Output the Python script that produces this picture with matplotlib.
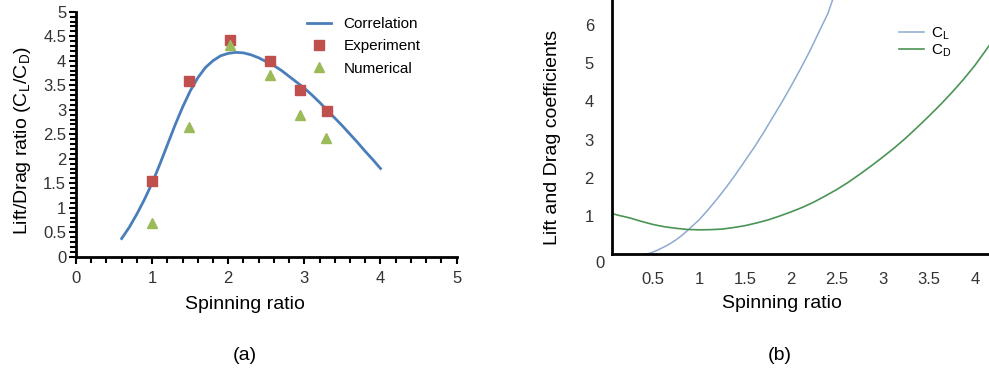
import matplotlib
matplotlib.use("Agg")
import matplotlib.pyplot as plt
from matplotlib.ticker import MultipleLocator, FuncFormatter

plt.rcParams['font.family'] = ['Liberation Sans', 'DejaVu Sans']
plt.rcParams['mathtext.fontset'] = 'custom'
plt.rcParams['mathtext.rm'] = 'Liberation Sans'

# (a) lift/drag ratio vs spinning ratio
corr_x = [0.6, 0.7, 0.8, 0.9, 1.0, 1.1, 1.2, 1.3, 1.4, 1.5, 1.6, 1.7, 1.8, 1.9, 2.0,
          2.1, 2.2, 2.3, 2.4, 2.5, 2.6, 2.7, 2.8, 2.9, 3.0, 3.1, 3.2, 3.3, 3.4, 3.5,
          3.6, 3.7, 3.8, 3.9, 4.0]
corr_y = [0.37, 0.6, 0.87, 1.17, 1.5, 1.88, 2.28, 2.68, 3.05, 3.38, 3.65, 3.86, 4.0, 4.1, 4.15,
          4.17, 4.16, 4.12, 4.06, 3.98, 3.9, 3.8, 3.68, 3.56, 3.44, 3.3, 3.15, 2.99, 2.83, 2.67,
          2.5, 2.33, 2.15, 1.98, 1.8]

exp_x = [1.0, 1.48, 2.02, 2.55, 2.94, 3.30]
exp_y = [1.55, 3.58, 4.42, 3.99, 3.40, 2.98]

num_x = [1.0, 1.49, 2.02, 2.55, 2.94, 3.29]
num_y = [0.69, 2.64, 4.33, 3.71, 2.89, 2.42]

# (b) lift and drag coefficients vs spinning ratio
cl_x = [0.4, 0.45, 0.5, 0.55, 0.6, 0.65, 0.7, 0.75, 0.8, 0.85, 0.9, 0.95, 1.0,
        1.1, 1.2, 1.3, 1.4, 1.5, 1.6, 1.7, 1.8, 1.9, 2.0, 2.1, 2.2, 2.3, 2.4, 2.45, 2.5]
cl_y = [0.0, 0.02, 0.06, 0.11, 0.17, 0.23, 0.3, 0.38, 0.47, 0.57, 0.68, 0.79, 0.9,
        1.17, 1.46, 1.77, 2.1, 2.45, 2.8, 3.18, 3.58, 3.98, 4.4, 4.84, 5.3, 5.8, 6.3, 6.65, 7.0]

cd_x = [0.05, 0.125, 0.25, 0.375, 0.5, 0.625, 0.75, 0.875, 1.0, 1.125, 1.25, 1.375,
        1.5, 1.625, 1.75, 1.875, 2.0, 2.125, 2.25, 2.375, 2.5, 2.625, 2.75, 2.875,
        3.0, 3.125, 3.25, 3.375, 3.5, 3.625, 3.75, 3.875, 4.0, 4.15]
cd_y = [1.07, 1.02, 0.95, 0.86, 0.78, 0.72, 0.68, 0.65, 0.64, 0.645, 0.66, 0.70,
        0.75, 0.82, 0.90, 1.0, 1.11, 1.23, 1.37, 1.53, 1.70, 1.89, 2.10, 2.32,
        2.55, 2.79, 3.05, 3.33, 3.62, 3.92, 4.24, 4.58, 4.95, 5.45]

fmt = FuncFormatter(lambda v, p: '%g' % v)
tick_color = '#333333'

fig = plt.figure(figsize=(9.89, 3.74), dpi=100)

# ---- left panel
ax1 = fig.add_axes([0.0768, 0.3136, 0.3849, 0.6551])
ax1.plot(corr_x, corr_y, color='#4a7ebb', lw=2.0, label='Correlation')
ax1.plot(exp_x, exp_y, 's', color='#c0504d', ms=7, label='Experiment')
ax1.plot(num_x, num_y, '^', color='#9bbb59', ms=7, label='Numerical')
ax1.set_xlim(0, 5)
ax1.set_ylim(0, 5)
ax1.xaxis.set_major_locator(MultipleLocator(1))
ax1.xaxis.set_minor_locator(MultipleLocator(0.2))
ax1.yaxis.set_major_locator(MultipleLocator(0.5))
ax1.yaxis.set_minor_locator(MultipleLocator(0.1))
ax1.xaxis.set_major_formatter(fmt)
ax1.yaxis.set_major_formatter(fmt)
for s in ['top', 'right']:
    ax1.spines[s].set_visible(False)
for s in ['left', 'bottom']:
    ax1.spines[s].set_linewidth(2.0)
ax1.tick_params(which='major', length=5, width=1.5, labelsize=12,
                labelcolor=tick_color)
ax1.tick_params(axis='y', pad=2)
ax1.tick_params(axis='x', pad=5)
ax1.tick_params(which='minor', length=4, width=1.5)
ax1.set_xlabel('Spinning ratio', fontsize=14, va='center')
ax1.xaxis.set_label_coords(0.444, -0.193)
ax1.set_ylabel('Lift/Drag ratio (C$_\\mathregular{L}$/C$_\\mathregular{D}$)',
               fontsize=14, va='center')
ax1.yaxis.set_label_coords(-0.14, 0.472)
ax1.legend(loc='upper left', bbox_to_anchor=(0.57, 1.035), frameon=False,
           fontsize=11, handlelength=1.6, handletextpad=0.8, labelspacing=0.55,
           numpoints=1)

# ---- right panel
ax2 = fig.add_axes([0.6188, 0.32, 0.3812, 0.68])
ax2.plot(cl_x, cl_y, color='#8eaad0', lw=1.1, label='C$_\\mathregular{L}$')
ax2.plot(cd_x, cd_y, color='#4a9455', lw=1.2, label='C$_\\mathregular{D}$')
ax2.set_xlim(0.054, 4.15)
ax2.set_ylim(0, 6.65)
ax2.set_xticks([0.5, 1, 1.5, 2, 2.5, 3, 3.5, 4])
ax2.set_yticks([1, 2, 3, 4, 5, 6])
ax2.xaxis.set_major_formatter(fmt)
ax2.yaxis.set_major_formatter(fmt)
for s in ['top', 'right']:
    ax2.spines[s].set_visible(False)
for s in ['left', 'bottom']:
    ax2.spines[s].set_linewidth(2.0)
ax2.tick_params(length=0, labelsize=12, labelcolor=tick_color)
ax2.tick_params(axis='x', pad=13)
ax2.tick_params(axis='y', pad=13)
ax2.text(-0.02, -0.035, '0', transform=ax2.transAxes, fontsize=12,
         color=tick_color, ha='right', va='center')
ax2.set_xlabel('Spinning ratio', fontsize=14, va='center')
ax2.xaxis.set_label_coords(0.451, -0.195)
ax2.set_ylabel('Lift and Drag coefficients', fontsize=14, va='center')
ax2.yaxis.set_label_coords(-0.159, 0.461)
ax2.legend(loc='upper left', bbox_to_anchor=(0.725, 0.955), frameon=False,
           fontsize=11, handlelength=1.6, handletextpad=0.5, labelspacing=0.05)

fig.text(245 / 989, 1 - 356 / 374, '(a)', fontsize=14, ha='center', va='center')
fig.text(780 / 989, 1 - 356 / 374, '(b)', fontsize=14, ha='center', va='center')

fig.savefig('out.png', dpi=100)
